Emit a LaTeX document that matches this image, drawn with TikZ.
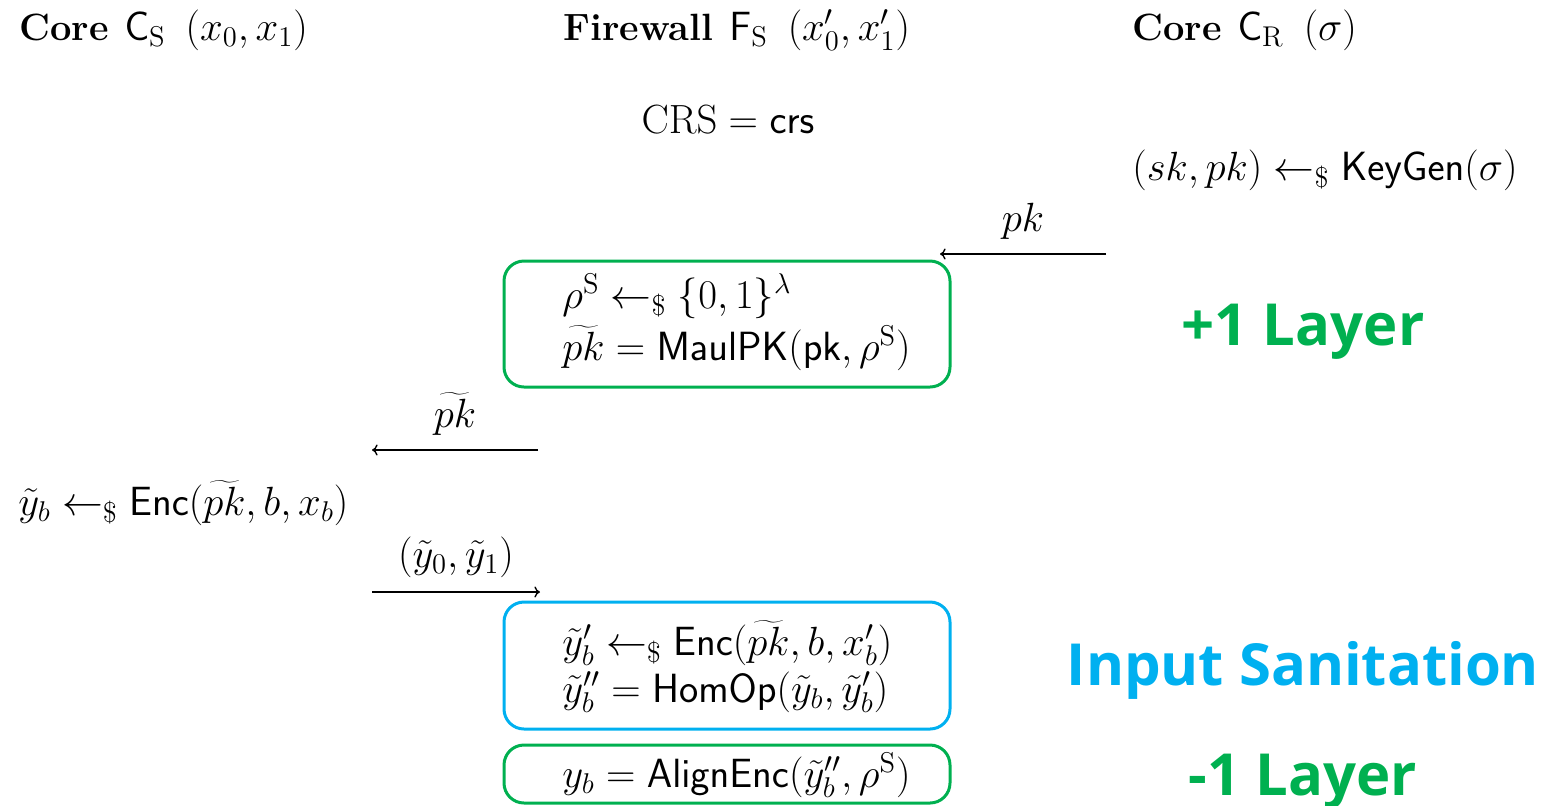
\RequirePackage{fix-cm}
\documentclass[tikz,border=0pt]{standalone}
\usepackage[no-math]{fontspec}
\newfontfamily\tagfont{Open Sans}
\usetikzlibrary{arrows.meta}
\definecolor{layergreen}{HTML}{00B050}
\definecolor{sanblue}{HTML}{00B0F0}
\newcommand{\rs}{\leftarrow_{\$}}
\newcommand{\party}[3]{{\fontsize{19}{23}\selectfont\textbf{#1}}\hspace{8pt}$#2$\hspace{10pt}$#3$}
\begin{document}
\begin{tikzpicture}[x=0.5pt,y=-0.5pt,
  txt/.style={inner sep=0pt,font=\fontsize{20.4}{24}\selectfont},
  msg/.style={line width=0.7pt,-{To[length=2.8pt,width=5.5pt]}},
  lbl/.style={txt,above=7pt},
  stepbox/.style={draw,line width=1.5pt,rounded corners=10pt,minimum width=223pt,inner sep=0pt},
  tag/.style={inner sep=0pt,font=\tagfont\bfseries\fontsize{29}{34}\selectfont}]
\useasboundingbox (0,0) rectangle (1542,805);

% party headers
\node[txt,anchor=base west] (hCS) at (19,40) {\party{Core}{\mathsf{C}_{\mathrm{S}}}{(x_0,x_1)}};
\node[txt,anchor=base west] (hFS) at (563,40) {\party{Firewall}{\mathsf{F}_{\mathrm{S}}}{(x'_0,x'_1)}};
\node[txt,anchor=base west] (hCR) at (1132,40) {\party{Core}{\mathsf{C}_{\mathrm{R}}}{(\sigma)}};

\node[txt,anchor=base] (crs) at (728,133) {$\mathrm{CRS} = \mathsf{crs}$};
\node[txt,anchor=base west] (kg) at (1132,180) {$(sk,pk) \rs \mathsf{KeyGen}(\sigma)$};

% pk from receiver core to firewall
\coordinate (pkR) at (1106,254);
\coordinate (pkF) at (940,254);
\draw[msg] (pkR) -- node[lbl] (lpk) {$pk$} (pkF);

% re-randomisation of the key
\node[stepbox,draw=layergreen,minimum height=63pt] (box1) at (727,324) {};
\node[txt,anchor=base west] (r1) at (562,308) {$\rho^{\mathrm{S}} \rs \{0,1\}^{\lambda}$};
\node[txt,anchor=base west] (r2) at (562,360) {$\widetilde{pk} = \mathsf{MaulPK}(\mathsf{pk},\rho^{\mathrm{S}})$};
\node[tag,text=layergreen,anchor=base] (t1) at (1303,345) {+1 Layer};

% mauled key to the sender core
\coordinate (mkF) at (538,450);
\coordinate (mkC) at (372,450);
\draw[msg] (mkF) -- node[lbl] (lmk) {$\widetilde{pk}$} (mkC);

\node[txt,anchor=base west] (enc) at (18,515) {$\tilde{y}_b \rs \mathsf{Enc}(\widetilde{pk},b,x_b)$};

% ciphertexts to the firewall
\coordinate (ctC) at (372,592);
\coordinate (ctF) at (540,592);
\draw[msg] (ctC) -- node[lbl] (lct) {$(\tilde{y}_0,\tilde{y}_1)$} (ctF);

% sanitation
\node[stepbox,draw=sanblue,minimum height=63.5pt] (box2) at (727,665.5) {};
\node[txt,anchor=base west] (s1) at (562,655) {$\tilde{y}'_b \rs \mathsf{Enc}(\widetilde{pk},b,x'_b)$};
\node[txt,anchor=base west] (s2) at (562,702) {$\tilde{y}''_b = \mathsf{HomOp}(\tilde{y}_b,\tilde{y}'_b)$};
\node[tag,text=sanblue,anchor=base] (t2) at (1303,685) {Input Sanitation};

% layer removal
\node[stepbox,draw=layergreen,minimum height=29pt] (box3) at (727,774) {};
\node[txt,anchor=base west] (a1) at (562,787) {$y_b = \mathsf{AlignEnc}(\tilde{y}''_b,\rho^{\mathrm{S}})$};
\node[tag,text=layergreen,anchor=base] (t3) at (1303,795) {-1 Layer};
\end{tikzpicture}
\end{document}
